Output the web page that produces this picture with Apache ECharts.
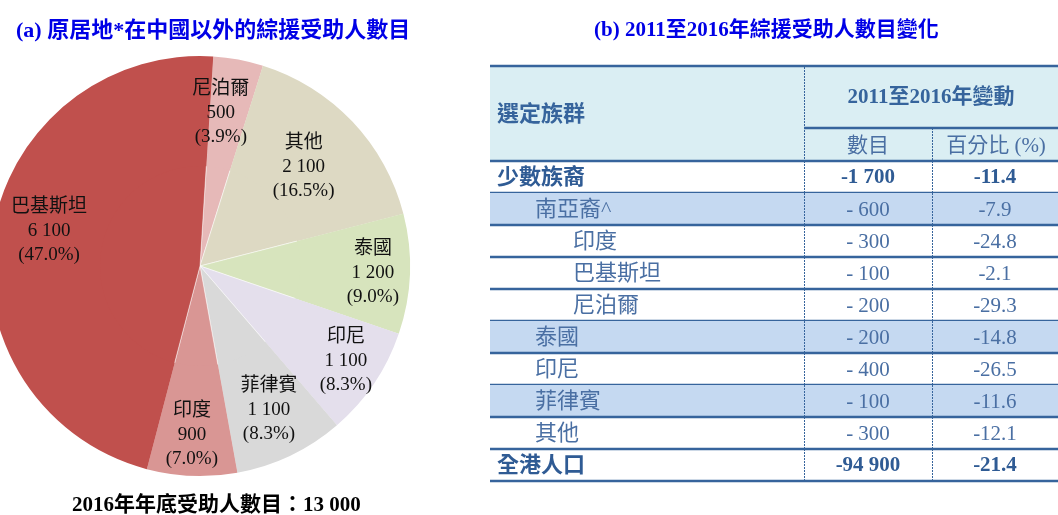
<!DOCTYPE html>
<html>
<head>
<meta charset="utf-8">
<script src="https://cdn.jsdelivr.net/npm/echarts@6/dist/echarts.min.js"></script>
<style>
  html, body { margin: 0; padding: 0; background: #fff; }
  #main { width: 1058px; height: 515px; }
</style>
</head>
<body>
<div id="main"></div>
<script>
// (a) 原居地在中國以外的綜援受助人
var pieNames = ['尼泊爾', '其他', '泰國', '印尼', '菲律賓', '印度', '巴基斯坦']
var pieValues = [500, 2100, 1200, 1100, 1100, 900, 6100]
var piePercents = ['3.9', '16.5', '9.0', '8.3', '8.3', '7.0', '47.0']
var pieColors = ['#E6B9B8', '#DDD9C3', '#D7E4BD', '#E4DFEC', '#D9D9D9', '#D99694', '#C0504D']

// (b) 2011至2016年變動
var rowNames = ['少數族裔', '南亞裔^', '印度', '巴基斯坦', '尼泊爾', '泰國', '印尼', '菲律賓', '其他', '全港人口']
var rowLevels = [0, 1, 2, 2, 2, 1, 1, 1, 1, 0]
var rowChange = [-1700, -600, -300, -100, -200, -200, -400, -100, -300, -94900]
var rowPercent = ['-11.4', '-7.9', '-24.8', '-2.1', '-29.3', '-14.8', '-26.5', '-11.6', '-12.1', '-21.4']

var SERIF = '"Liberation Serif", "Noto Sans CJK TC", serif'
var BLUE = '#36649C'
var shadedRows = [1, 5, 7]
var colEdges = [0, 314, 442, 568] // 表格列邊界（像素寬度）
var labelNudge = [[-8, 2], [-11, 10], [15, 1], [15, 7], [1, 1], [-2, 11], [5, -10]]

function fmtNum(v) {
  return String(Math.abs(v)).replace(/\B(?=(\d{3})+(?!\d))/g, ' ')
}
function fmtChange(v) {
  // 原表寫法：千位以下為「- 600」
  return (Math.abs(v) < 1000 ? '- ' : '-') + fmtNum(v)
}

var pieData = pieNames.map(function (n, i) {
  return { name: n, value: pieValues[i], itemStyle: { color: pieColors[i] } }
})

var chart = echarts.init(document.getElementById('main'))

var option = {
  animation: false,
  title: [
    {
      text: '(a) 原居地*在中國以外的綜援受助人數目',
      left: 11, top: 15,
      textStyle: { color: '#0000E6', fontSize: 22, fontWeight: 'bold', fontFamily: SERIF }
    },
    {
      text: '(b) 2011至2016年綜援受助人數目變化',
      left: 589, top: 15,
      textStyle: { color: '#0000E6', fontSize: 21, fontWeight: 'bold', fontFamily: SERIF }
    },
    {
      text: '2016年年底受助人數目：13 000',
      left: 67, top: 490,
      textStyle: { color: '#000', fontSize: 21, fontWeight: 'bold', fontFamily: SERIF }
    }
  ],
  grid: { left: 490, top: 161, width: 568, height: 320 },
  xAxis: { type: 'value', min: 0, max: 568, show: false },
  yAxis: { type: 'category', data: rowNames, inverse: true, show: false },
  graphic: [
    // 表頭
    { type: 'rect', shape: { x: 490, y: 67, width: 568, height: 94 }, style: { fill: '#DAEEF3' } },
    { type: 'line', shape: { x1: 490, y1: 66, x2: 1058, y2: 66 }, style: { stroke: BLUE, lineWidth: 2.5 }, z: 10 },
    { type: 'line', shape: { x1: 804, y1: 128, x2: 1058, y2: 128 }, style: { stroke: BLUE, lineWidth: 2.5 }, z: 10 },
    { type: 'line', shape: { x1: 490, y1: 161, x2: 1058, y2: 161 }, style: { stroke: BLUE, lineWidth: 2.5 }, z: 10 },
    { type: 'line', shape: { x1: 804.5, y1: 67, x2: 804.5, y2: 161 }, style: { stroke: BLUE, lineWidth: 1, lineDash: [2, 1] }, z: 10 },
    { type: 'line', shape: { x1: 932.5, y1: 128, x2: 932.5, y2: 161 }, style: { stroke: BLUE, lineWidth: 1, lineDash: [2, 1] }, z: 10 },
    {
      type: 'text', z: 10,
      style: { text: '選定族群', x: 497, y: 115, verticalAlign: 'middle', fill: BLUE, fontSize: 22, fontWeight: 'bold', fontFamily: SERIF }
    },
    {
      type: 'text', z: 10,
      style: { text: '2011至2016年變動', x: 931, y: 98, align: 'center', verticalAlign: 'middle', fill: BLUE, fontSize: 21, fontWeight: 'bold', fontFamily: SERIF }
    },
    {
      type: 'text', z: 10,
      style: { text: '數目', x: 868, y: 146, align: 'center', verticalAlign: 'middle', fill: '#4A6FA3', fontSize: 21, fontFamily: SERIF }
    },
    {
      type: 'text', z: 10,
      style: { text: '百分比 (%)', x: 996, y: 146, align: 'center', verticalAlign: 'middle', fill: '#4A6FA3', fontSize: 21, fontFamily: SERIF }
    }
  ],
  series: [
    {
      type: 'pie',
      center: [200, 266],
      radius: 208,
      startAngle: 86.4,
      clockwise: true,
      silent: true,
      label: { show: false },
      labelLine: { show: false },
      itemStyle: { borderColor: 'rgba(255,255,255,0.6)', borderWidth: 0.8 },
      data: pieData
    },
    {
      // 只用來放標籤
      type: 'pie',
      center: [200, 266],
      radius: [100, 210],
      startAngle: 86.4,
      clockwise: true,
      silent: true,
      itemStyle: { color: 'rgba(0,0,0,0)' },
      labelLine: { show: false },
      label: {
        show: true,
        position: 'inside',
        color: '#111',
        fontSize: 19,
        lineHeight: 24,
        fontFamily: SERIF,
        formatter: function (p) {
          return p.name + '\n' + fmtNum(p.value) + '\n(' + piePercents[p.dataIndex] + '%)'
        }
      },
      labelLayout: function (p) {
        var d = labelNudge[p.dataIndex]
        return { dx: d[0], dy: d[1] }
      },
      data: pieData
    },
    {
      type: 'custom',
      coordinateSystem: 'cartesian2d',
      silent: true,
      renderItem: function (params, api) {
        var i = api.value(1)
        var c = api.coord([0, i])
        var h = api.size([0, 1])[1]
        var top = c[1] - h / 2
        var x0 = api.coord([colEdges[0], i])[0]
        var x1 = api.coord([colEdges[1], i])[0]
        var x2 = api.coord([colEdges[2], i])[0]
        var x3 = api.coord([colEdges[3], i])[0]
        var bold = rowLevels[i] === 0
        var col = bold ? '#2F5B94' : '#4A6FA3'
        var weight = bold ? 'bold' : 'normal'
        var kids = []
        if (shadedRows.indexOf(i) >= 0) {
          kids.push({ type: 'rect', shape: { x: x0, y: top, width: x3 - x0, height: h }, style: { fill: '#C5D9F1' } })
        }
        kids.push({
          type: 'text',
          style: { text: rowNames[i], x: x0 + 7 + rowLevels[i] * 38, y: c[1] + 1, verticalAlign: 'middle', fill: col, fontSize: 22, fontWeight: weight, fontFamily: SERIF }
        })
        kids.push({
          type: 'text',
          style: { text: fmtChange(rowChange[i]), x: (x1 + x2) / 2, y: c[1] + 1, align: 'center', verticalAlign: 'middle', fill: col, fontSize: 21, fontWeight: weight, fontFamily: SERIF }
        })
        kids.push({
          type: 'text',
          style: { text: rowPercent[i], x: (x2 + x3) / 2, y: c[1] + 1, align: 'center', verticalAlign: 'middle', fill: col, fontSize: 21, fontWeight: weight, fontFamily: SERIF }
        })
        kids.push({ type: 'line', shape: { x1: x1 + 0.5, y1: top, x2: x1 + 0.5, y2: top + h }, style: { stroke: BLUE, lineWidth: 1, lineDash: [2, 1] } })
        kids.push({ type: 'line', shape: { x1: x2 + 0.5, y1: top, x2: x2 + 0.5, y2: top + h }, style: { stroke: BLUE, lineWidth: 1, lineDash: [2, 1] } })
        kids.push({ type: 'line', shape: { x1: x0, y1: top + h, x2: x3, y2: top + h }, style: { stroke: BLUE, lineWidth: 2.5 } })
        return { type: 'group', children: kids }
      },
      data: rowNames.map(function (n, i) { return [0, i] })
    }
  ]
}

chart.setOption(option)
</script>
</body>
</html>
